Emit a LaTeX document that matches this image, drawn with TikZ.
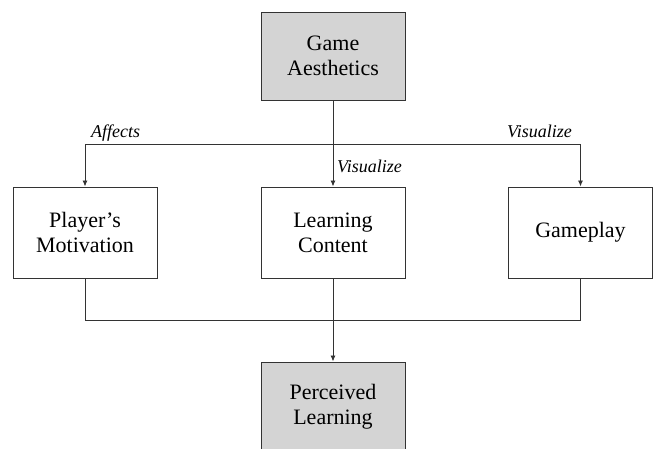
\documentclass[tikz,border=0pt]{standalone}
\usepackage{fontspec}
\setmainfont{Liberation Serif}
\usetikzlibrary{arrows.meta}
\definecolor{boxgray}{HTML}{D4D4D4}
\definecolor{linegray}{HTML}{333333}
\tikzset{
  box/.style={draw=linegray, line width=1pt, rectangle, minimum width=144pt, minimum height=90pt,
    align=center, inner sep=0pt, font=\fontsize{22}{25}\selectfont},
  graybox/.style={box, fill=boxgray},
  conn/.style={draw=linegray, line width=0.9pt},
  arr/.style={conn, -{Latex[length=6pt,width=5pt]}},
  lbl/.style={inner sep=0pt, font=\fontsize{18}{20}\selectfont\itshape}
}
\begin{document}
\begin{tikzpicture}[x=1pt,y=-1pt]
\useasboundingbox (0,0) rectangle (656,448);
\node[graybox, minimum height=88pt] (ga) at (333,56) {Game\\Aesthetics};
\node[box, minimum height=91pt] (pm) at (85,232.5) {Player's\\Motivation};
\node[box, minimum height=91pt] (lc) at (333,232.5) {Learning\\Content};
\node[box, minimum height=91pt] (gp) at (580.5,232.5) {Gameplay};
\node[graybox] (pl) at (333,407) {Perceived\\Learning};
\coordinate (t) at (333,144);
\coordinate (b) at (333,320);
\draw[arr] (ga.south) -- (lc.north);
\draw[arr] (t) -| (pm.north);
\draw[arr] (t) -| (gp.north);
\draw[conn] (pm.south) |- (b);
\draw[conn] (gp.south) |- (b);
\draw[conn] (lc.south) -- (b);
\draw[arr] (b) -- (pl.north);
\node[lbl, anchor=base west] (l1) at (91,137) {Affects};
\node[lbl, anchor=base east] (l2) at (572,137) {Visualize};
\node[lbl, anchor=base west] (l3) at (337,172) {Visualize};
\end{tikzpicture}
\end{document}
